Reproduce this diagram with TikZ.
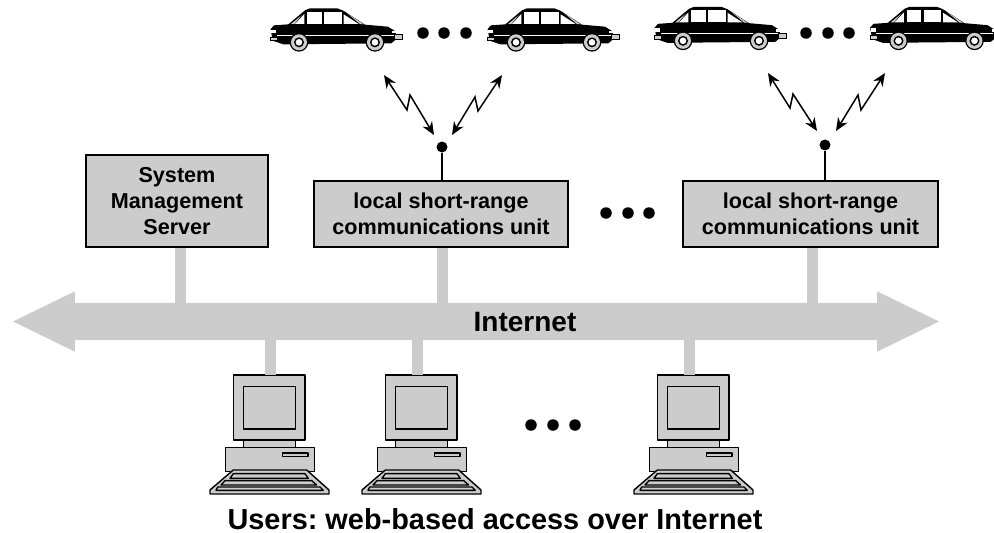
\documentclass[tikz,border=0pt]{standalone}
\usepackage{fontspec}
\setmainfont{Liberation Sans}
\frenchspacing
\usetikzlibrary{shapes.arrows, arrows.meta}
\definecolor{lgray}{HTML}{CCCCCC}
\tikzset{
  unitbox/.style={draw=black, line width=1.5pt, fill=lgray, align=center, inner sep=0pt, font=\fontsize{21.6}{26}\selectfont\bfseries},
  bigdot/.style={circle, fill=black, inner sep=0pt, minimum size=11.5pt},
  stem/.style={lgray, line width=11pt},
  radio/.style={line width=1.5pt, <->, >={Stealth[length=13pt,width=11pt]}},
  pcline/.style={draw=black, line width=1.4pt, fill=lgray, line join=round},
  pics/car/.style={code={
    \begin{scope}[scale=0.3333]
    \fill[black] (32,87) -- (42,76) -- (85,73) -- (135,31) -- (150,25) -- (232,25) -- (250,32) -- (315,74) -- (384,80) -- (408,95) -- (408,118) -- (394,130) -- (70,133) -- (38,122) -- (34,100) -- cycle;
    \fill[lgray] (93,72) -- (103,72) -- (125,46) -- cycle;
    \fill[lgray] (262,40) -- (300,72) -- (311,73) -- cycle;
    \fill[white] (105,72) -- (133,42) -- (133,72) -- cycle;
    \fill[white] (141,36) -- (185,36) -- (185,72) -- (141,72) -- cycle;
    \fill[white] (192,36) -- (245,36) -- (245,72) -- (192,72) -- cycle;
    \fill[white] (251,43) -- (296,72) -- (251,72) -- cycle;
    \fill[white] (50,104) rectangle (402,107);
    \fill[white] (33,90) rectangle (48,100);
    \fill[white] (397,92) rectangle (410,100);
    \draw[black, line width=.6pt, fill=lgray] (31,111) rectangle (53,122);
    \draw[black, line width=.6pt, fill=lgray] (403,103) rectangle (428,118);
    \foreach \wx in {117,345} {
      \fill[black] (\wx,127) circle (28);
      \fill[lgray] (\wx,127) circle (24);
      \fill[black] (\wx,127) circle (15);
      \fill[white] (\wx,127) circle (10);
    }
    \end{scope}
  }},
  pics/pc/.style={code={
    \begin{scope}[scale=0.3333]
    \coordinate (-mon) at (207,45);
    \draw[pcline] (130,240) rectangle (287,263);
    \draw[pcline] (77,263) rectangle (343,335);
    \draw[pcline] (100,45) rectangle (315,240);
    \draw[pcline] (130,80) rectangle (287,207);
    \draw[pcline] (248,279) rectangle (324,290);
    \draw[pcline] (30,390) -- (100,330) -- (320,330) -- (387,390) -- (387,402) -- (30,402) -- cycle;
    \draw[pcline] (100,341) -- (315,341) -- (325,355) -- (90,355) -- cycle;
    \draw[pcline] (75,362) -- (335,362) -- (350,375) -- (63,375) -- cycle;
    \draw[pcline] (53,381) -- (360,381) -- (370,391) -- (48,391) -- cycle;
    \end{scope}
  }}
}
\begin{document}
\begin{tikzpicture}[x=1pt, y=-1pt]
\useasboundingbox (0,0) rectangle (994,533);

% bus
\node[double arrow, fill=lgray, inner sep=0pt, minimum height=926pt, minimum width=60pt, text height=37pt, text width=1pt, double arrow head extend=11.5pt, double arrow tip angle=52] (internet) at (476,321.5){};
\node[font=\fontsize{28}{30}\selectfont\bfseries] (internettxt) at (525,322){Internet};

% boxes
\coordinate (busa) at (180,322);
\coordinate (busb) at (442,322);
\coordinate (busc) at (812,322);
\coordinate (busd) at (270,322);
\coordinate (buse) at (417,322);
\coordinate (busf) at (689,322);
\draw[stem] (busa) -- (180,247);
\draw[stem] (busb) -- (442,247);
\draw[stem] (busc) -- (812,247);
\node[unitbox, minimum width=182pt, minimum height=92pt] (sms) at (177,201){System\\Management\\Server};
\node[unitbox, minimum width=254pt, minimum height=66pt] (unita) at (441,214){local short-range\\communications unit};
\node[unitbox, minimum width=255pt, minimum height=66pt] (unitb) at (810.5,214){local short-range\\communications unit};

% antennas
\node[circle, fill=black, inner sep=0pt, minimum size=11pt] (anta) at (442,147){};
\node[circle, fill=black, inner sep=0pt, minimum size=11pt] (antb) at (825,145){};
\draw[line width=1.5pt] (anta) -- (anta |- unita.north);
\draw[line width=1.5pt] (antb) -- (antb |- unitb.north);

% radio links
\coordinate (la0) at (384,75);
\coordinate (la1) at (434,135);
\coordinate (ra0) at (502,75);
\coordinate (ra1) at (452,135);
\draw[radio] (la0) -- (407,110) -- (410,95) -- (la1);
\draw[radio] (ra0) -- (478,111) -- (475,97) -- (ra1);
\coordinate (lb0) at (768,73);
\coordinate (lb1) at (817,131);
\coordinate (rb0) at (885,73);
\coordinate (rb1) at (836,131);
\draw[radio] (lb0) -- (790,108) -- (793,94) -- (lb1);
\draw[radio] (rb0) -- (861,110) -- (858,95) -- (rb1);

% cars
\pic at (260,0) {car};
\pic at (477,0) {car};
\pic at (644,-1.5) {car};
\pic at (859.5,-1.5) {car};
\foreach \x in {423,444,466,806,828,849} {
  \node[bigdot] (cd\x) at (\x,33){};
}
\foreach \x in {606,628,649} {
  \node[bigdot] (ud\x) at (\x,213){};
}
\foreach \x in {531,553,575} {
  \node[bigdot] (pd\x) at (\x,425){};
}

% users
\pic (pca) at (200,360) {pc};
\pic (pcb) at (352,360) {pc};
\pic (pcc) at (624,360) {pc};
\draw[stem] (busd) -- (busd |- pca-mon);
\draw[stem] (buse) -- (buse |- pcb-mon);
\draw[stem] (busf) -- (busf |- pcc-mon);
\node[inner sep=0pt, font=\fontsize{28.9}{30}\selectfont\bfseries] (users) at (495,519){Users: web-based access over Internet};

\end{tikzpicture}
\end{document}
